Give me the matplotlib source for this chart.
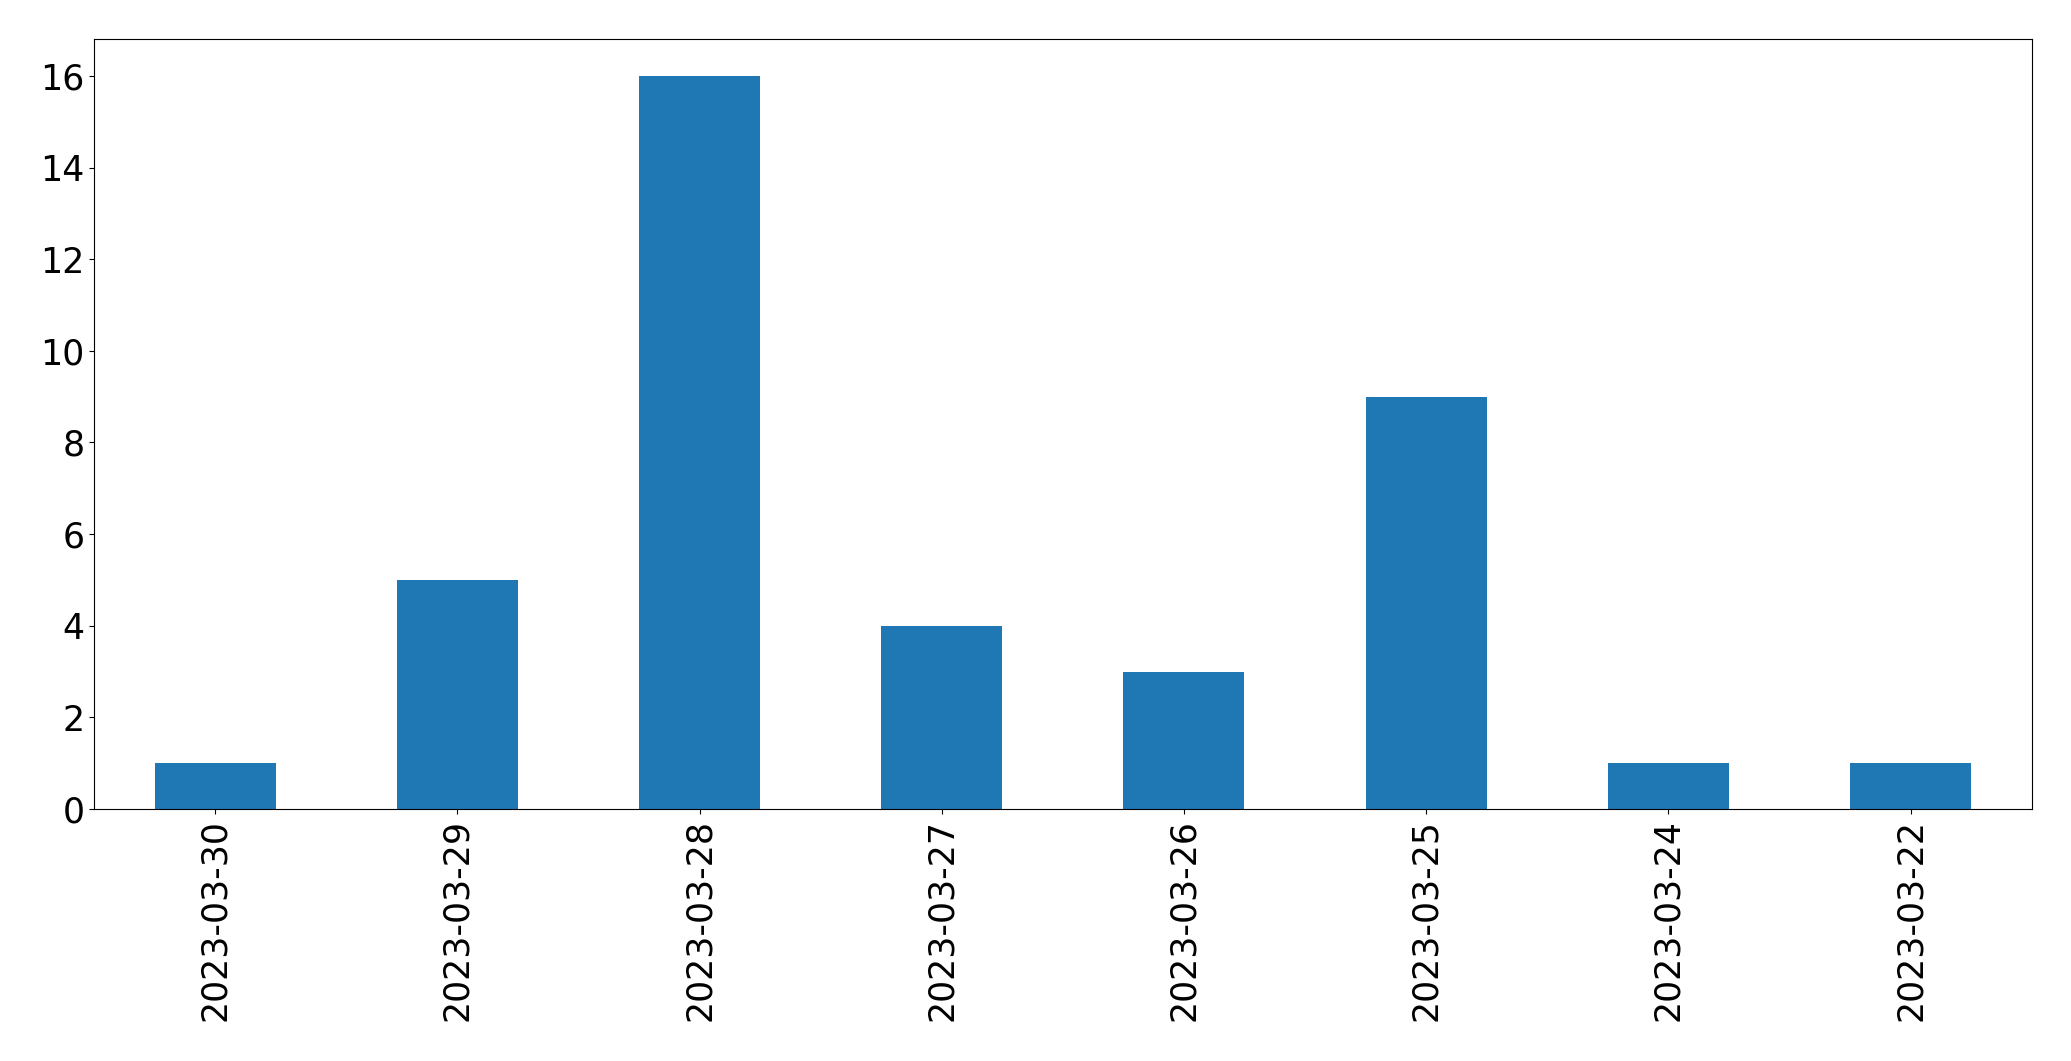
import pandas as pd
import matplotlib
matplotlib.use('Agg')
import matplotlib.pyplot as plt

dates = ['2023-03-30', '2023-03-29', '2023-03-28', '2023-03-27',
         '2023-03-26', '2023-03-25', '2023-03-24', '2023-03-22']
counts = [1, 5, 16, 4, 3, 9, 1, 1]

s = pd.Series(counts, index=dates)

fig = plt.figure(figsize=(20.71, 10.61), dpi=100)
ax = fig.add_subplot(111)
s.plot(kind='bar', ax=ax, color='#1f77b4')
ax.tick_params(axis='both', labelsize=25)
fig.subplots_adjust(left=0.0454, right=0.981, top=0.963, bottom=0.2375)
fig.savefig('out.png', dpi=100)
